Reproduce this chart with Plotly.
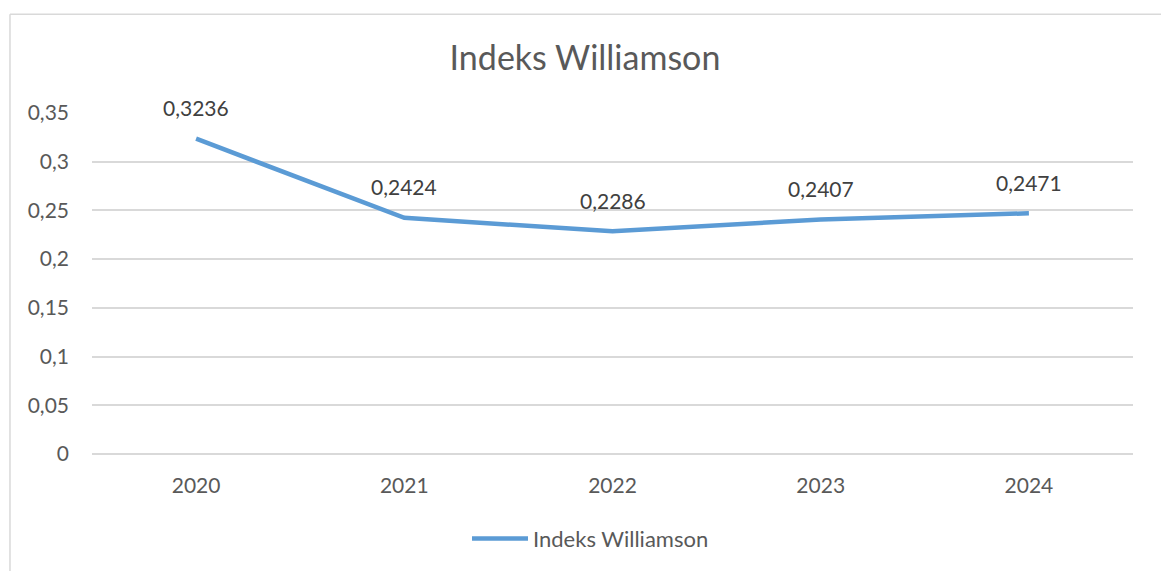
import plotly.graph_objects as go

years = ["2020", "2021", "2022", "2023", "2024"]
values = [0.3236, 0.2424, 0.2286, 0.2407, 0.2471]
series_name = "Indeks Williamson"
title_text = "Indeks Williamson"

FONT = "Lato, 'Open Sans', sans-serif"
LINE_COLOR = "#5B9BD5"
TEXT_GREY = "#595959"
GRID = "#D9D9D9"

labels = [f"{v:.4f}".replace(".", ",") for v in values]

fig = go.Figure()
fig.add_trace(go.Scatter(
    x=years, y=values, mode="lines", name=series_name,
    line=dict(color=LINE_COLOR, width=4.5),
    hoverinfo="skip",
))

for i, (y, t) in enumerate(zip(values, labels)):
    fig.add_annotation(x=i, y=y, xref="x", yref="y", text=t, showarrow=False, yshift=31,
                       font=dict(family=FONT, size=21, color="#404040"))

# chart border (left and top visible)
fig.add_shape(type="line", xref="paper", yref="paper",
              x0=-0.0788, x1=-0.0788, y0=1.2895, y1=-0.40,
              line=dict(color=GRID, width=1.5))
fig.add_shape(type="line", xref="paper", yref="paper",
              x0=-0.0788, x1=1.05, y0=1.2895, y1=1.2895,
              line=dict(color=GRID, width=1.5))

fig.update_layout(
    width=1161, height=571,
    margin=dict(l=92, r=28, t=113, b=116),
    paper_bgcolor="white", plot_bgcolor="white",
    separators=",.",
    font=dict(family=FONT, color=TEXT_GREY, size=21),
    title=dict(text=title_text, x=585 / 1161, xanchor="center", y=1 - 58 / 571, yanchor="middle",
               font=dict(family=FONT, size=34, color=TEXT_GREY)),
    showlegend=True,
    legend=dict(orientation="h", x=0.5 - 22 / 1041, xanchor="center", y=-0.245, yanchor="middle",
                font=dict(family=FONT, size=22, color=TEXT_GREY), itemwidth=56),
    xaxis=dict(type="category", range=[-0.5, 4.5], showgrid=False, zeroline=False,
               showline=False, ticks="", tickfont=dict(size=21, color=TEXT_GREY),
               ticklabelstandoff=17),
    yaxis=dict(range=[0, 0.35], dtick=0.05, tick0=0, showgrid=True, gridcolor=GRID,
               gridwidth=1.5, zeroline=True, zerolinecolor=GRID, zerolinewidth=1.5,
               showline=False, ticks="",
               tickfont=dict(size=21, color=TEXT_GREY), ticklabelstandoff=22),
)

fig.write_html("out.html", config={"displayModeBar": False},
               post_script="document.body.style.margin='0';")
